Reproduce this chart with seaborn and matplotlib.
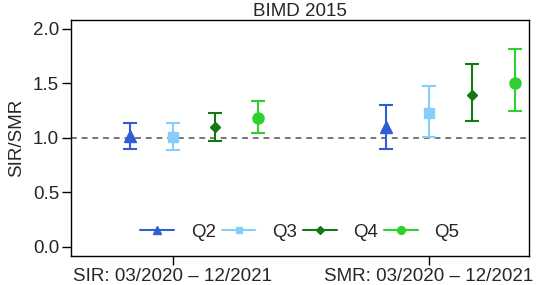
import numpy as np
import matplotlib
matplotlib.use("Agg")
import matplotlib.pyplot as plt
from matplotlib.lines import Line2D
import seaborn as sns

# Data
periods = ["SIR: 03/2020 \u2013 12/2021", "SMR: 03/2020 \u2013 12/2021"]
quintiles = ["Q2", "Q3", "Q4", "Q5"]
est_sir = [1.02, 1.01, 1.10, 1.18]
low_sir = [0.90, 0.89, 0.97, 1.05]
upp_sir = [1.14, 1.14, 1.23, 1.34]
est_smr = [1.10, 1.23, 1.39, 1.50]
low_smr = [0.90, 1.01, 1.16, 1.25]
upp_smr = [1.30, 1.48, 1.68, 1.82]
y_ticks = [0.0, 0.5, 1.0, 1.5, 2.0]

sns.set_theme(style="ticks")
plt.rcParams['font.family'] = ['Liberation Sans', 'DejaVu Sans']
plt.rcParams['axes.edgecolor'] = 'black'

colors = ["#2f5fd6", "#87cefa", "#137a13", "#2fcf2f"]
markers = ["^", "s", "D", "o"]
msizes = [9, 7, 5.5, 8]
fs = 13.5

fig = plt.figure(figsize=(5.36, 2.85), dpi=100)
ax = fig.add_axes([0.1325, 0.1018, 0.8545, 0.8282])

# reference line at 1
ax.axhline(1.0, color="#777777", lw=1.4, ls=(0, (3, 2.5)), zorder=1)

est = [est_sir, est_smr]
low = [low_sir, low_smr]
upp = [upp_sir, upp_smr]
period_base = [1, 7]  # x-position of Q2 in each group

for p in range(len(periods)):
    for q in range(len(quintiles)):
        x = period_base[p] + q
        y = est[p][q]
        ax.errorbar([x], [y], yerr=[[y - low[p][q]], [upp[p][q] - y]],
                    fmt=markers[q], color=colors[q], ms=msizes[q],
                    capsize=5, elinewidth=1.5, capthick=1.5, zorder=3)

ax.set_xlim(-0.38, 10.34)
ax.set_ylim(-0.083, 2.083)
ax.set_xticks([period_base[0] + 1, period_base[1] + 1])
ax.set_xticklabels(periods, fontsize=fs)
ax.set_yticks(y_ticks)
ax.set_yticklabels([f"{v:.1f}" for v in y_ticks], fontsize=fs)
ax.tick_params(axis="both", direction="out", length=6.5, width=1, color="black", pad=2)
ax.set_ylabel("SIR/SMR", fontsize=fs, labelpad=6)
ax.set_title("BIMD 2015", fontsize=fs, pad=3)
for s in ax.spines.values():
    s.set_linewidth(1)

# legend markers are drawn smaller than the plotted points
handles = [Line2D([], [], color=colors[i], marker=markers[i], ms=msizes[i] * 0.7, lw=1.5)
           for i in range(len(quintiles))]
ax.legend(handles, quintiles, loc="center", bbox_to_anchor=(0.5, 0.10), ncol=4,
          frameon=False, fontsize=fs, handlelength=1.8, handletextpad=0.9,
          columnspacing=0.3)

fig.savefig("out.png", dpi=100)
